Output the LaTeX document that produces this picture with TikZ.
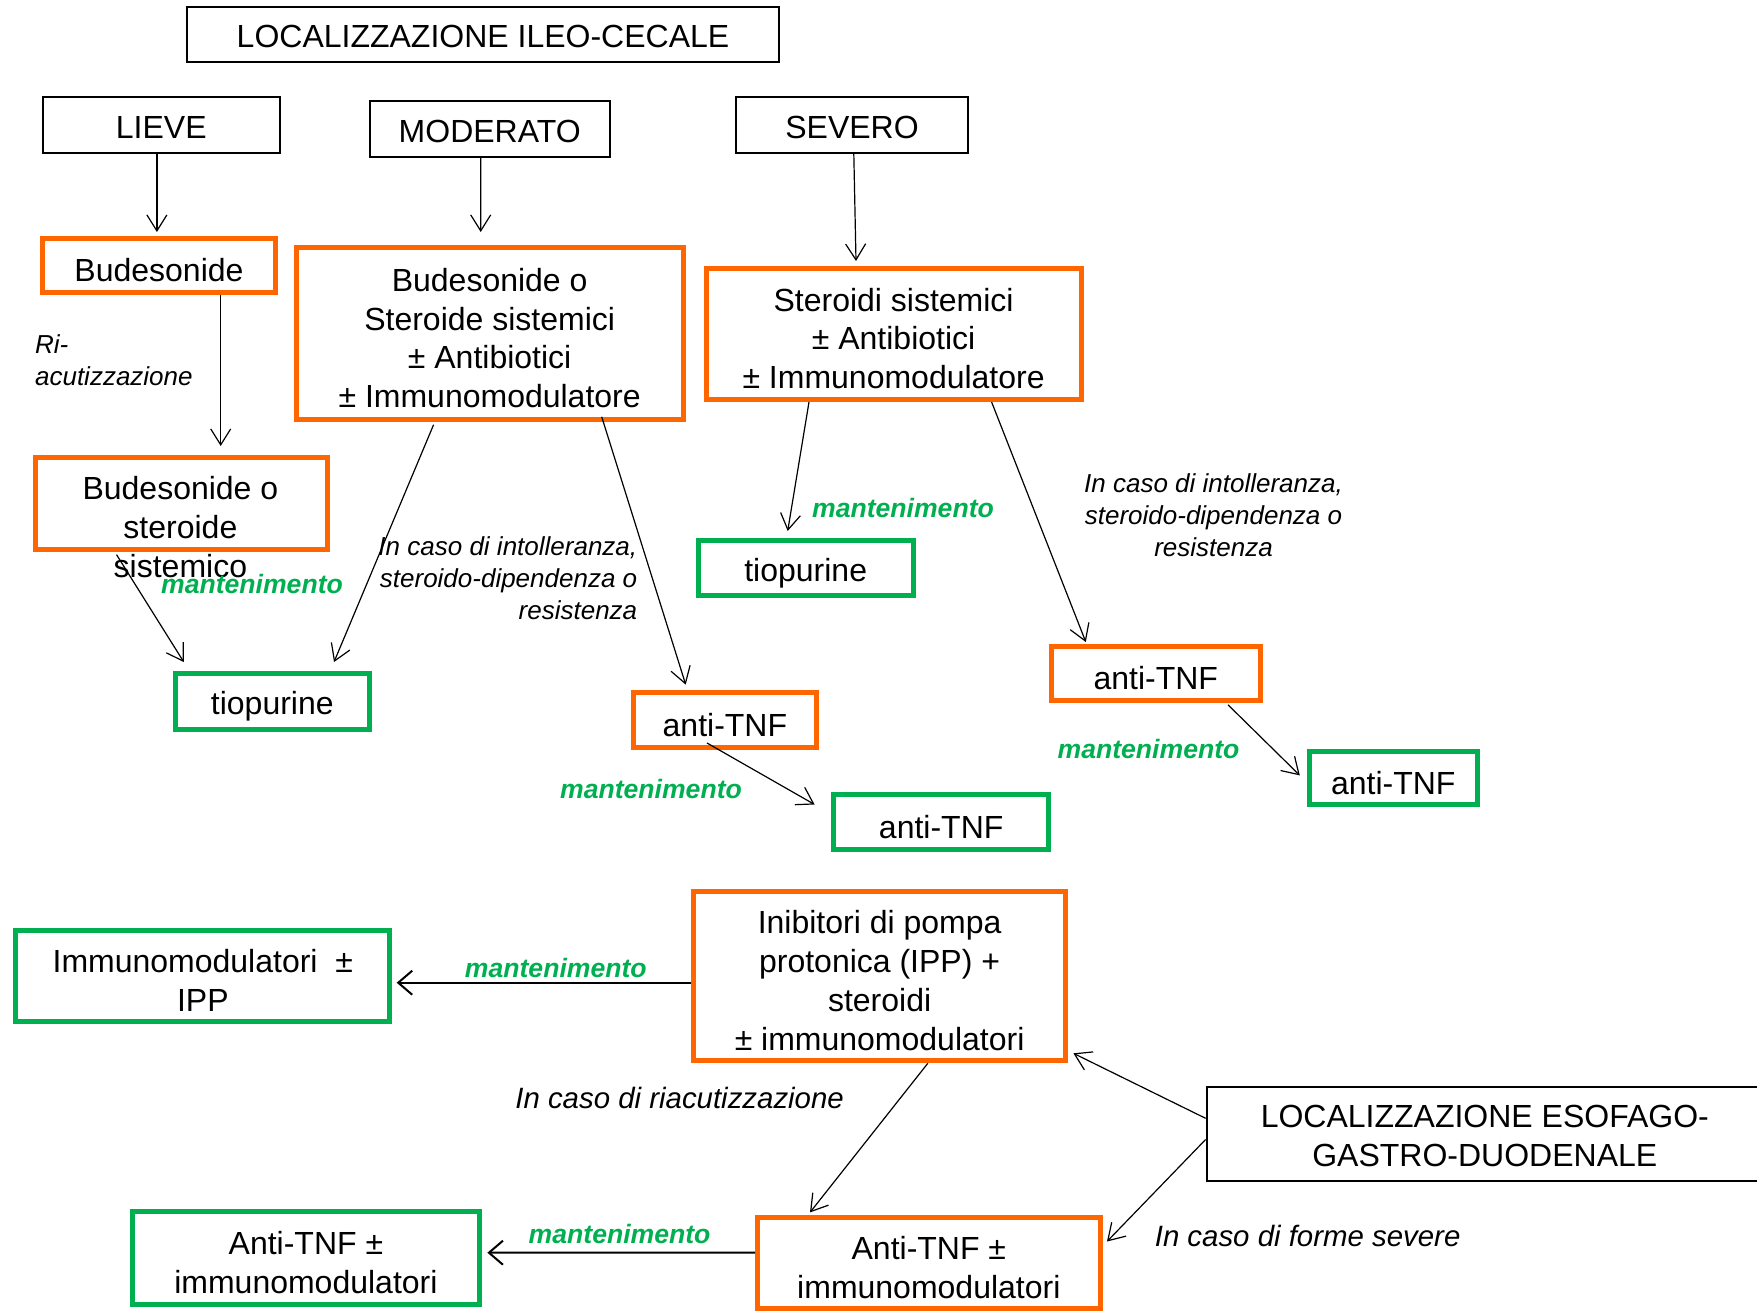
\documentclass[tikz,border=0pt]{standalone}
\usepackage{fontspec}
\setmainfont{Liberation Sans}
\usetikzlibrary{arrows.meta}
\definecolor{ora}{HTML}{FF6600}
\definecolor{grn}{HTML}{00B050}
\newcommand\dmainf{\fontsize{16}{19.4}\selectfont}
\newcommand\dmantf{\fontsize{13.3}{16}\selectfont\bfseries\itshape}
\newcommand\dnotef{\fontsize{13}{16}\selectfont\itshape}
\newcommand\dnotebf{\fontsize{14.7}{17}\selectfont\itshape}
\newcommand\dms{\rule{0pt}{16.2pt}}
\newcommand\dmsb{\rule{0pt}{13.6pt}}
\begin{document}
\begin{tikzpicture}[x=0.5pt,y=-0.5pt,
 tstrut/.style={execute at begin node={\rule{0pt}{#1}}},
 boxbase/.style={inner sep=0pt,align=center,font=\dmainf},
 bbox/.style={boxbase,draw=black,line width=1pt,tstrut=13.5pt},
 obox/.style={boxbase,draw=ora,line width=2.5pt,tstrut=16.5pt},
 gbox/.style={boxbase,draw=grn,line width=2.5pt,tstrut=16.5pt},
 mbox/.style={boxbase,line width=2.5pt},
 arr/.style={line width=0.6pt,-{Straight Barb[length=8pt,width=10pt]}},
 harr/.style={line width=1pt,-{Straight Barb[length=7pt,width=12pt]}},
 mant/.style={text=grn,font=\dmantf,inner sep=0pt},
 note/.style={font=\dnotef,inner sep=0pt},
 bignote/.style={font=\dnotebf,inner sep=0pt},
]
\useasboundingbox (0,0) rectangle (1757,1313);

% header boxes
\node[bbox,minimum width=296pt,minimum height=27.5pt] (title) at (483,34.2) {LOCALIZZAZIONE ILEO-CECALE};
\node[bbox,minimum width=118.75pt,minimum height=27.75pt] (lieve) at (161.3,124.8) {LIEVE};
\node[bbox,minimum width=120pt,minimum height=28.15pt] (moderato) at (489.7,128.9) {MODERATO};
\node[bbox,minimum width=116pt,minimum height=27.75pt] (severo) at (852,124.8) {SEVERO};

% therapy boxes
\node[obox,minimum width=116.5pt,minimum height=27pt] (b1) at (159,265.5) {Budesonide};
\node[mbox,draw=ora,minimum width=193.5pt,minimum height=86pt] (b2) at (489.65,333.5) {\dms Budesonide o\\Steroide sistemici\\± Antibiotici\\± Immunomodulatore};
\node[mbox,draw=ora,minimum width=187.5pt,minimum height=65.7pt] (b3) at (893.6,333.8) {\dms Steroidi sistemici\\± Antibiotici\\± Immunomodulatore};
\node[obox,minimum width=146pt,minimum height=46.2pt] (b4) at (181,503.7) {};
\node[font=\dmainf,align=center,inner sep=0pt] (b4t) at (180.4,527) {Budesonide o\\steroide\\sistemico};

\node[gbox,minimum width=97.2pt,minimum height=27.85pt] (t1) at (272.3,701.4) {tiopurine};
\node[gbox,minimum width=107.35pt,minimum height=27.5pt] (t2) at (805.7,568) {tiopurine};
\node[obox,minimum width=91.6pt,minimum height=27.3pt] (a1) at (724.9,719.8) {anti-TNF};
\node[gbox,minimum width=107.3pt,minimum height=27.3pt] (a2) at (941.2,821.8) {anti-TNF};
\node[obox,minimum width=104.5pt,minimum height=26.75pt] (a3) at (1155.8,673.3) {anti-TNF};
\node[gbox,minimum width=84.25pt,minimum height=26.65pt] (a4) at (1393.3,777.7) {anti-TNF};

% lower part
\node[mbox,draw=ora,minimum width=185.7pt,minimum height=84.9pt] (c1) at (879.6,975.9) {\dms Inibitori di pompa\\protonica (IPP) +\\steroidi\\± immunomodulatori};
\node[mbox,draw=grn,minimum width=186.9pt,minimum height=45.6pt] (c2) at (202.8,975.9) {\dms Immunomodulatori\ \ ±\\IPP};
\node[boxbase,draw=black,line width=1pt,minimum width=278.2pt,minimum height=47.1pt] (c3) at (1484.8,1133.9) {\dmsb LOCALIZZAZIONE ESOFAGO-\\GASTRO-DUODENALE};
\node[mbox,draw=ora,minimum width=171.15pt,minimum height=45.7pt] (c4) at (928.85,1262.8) {\dms Anti-TNF ±\\immunomodulatori};
\node[mbox,draw=grn,minimum width=173.4pt,minimum height=46.25pt] (c5) at (305.9,1257.75) {\dms Anti-TNF ±\\immunomodulatori};

% labels
\node[note,anchor=west,align=left] (ri) at (34.7,360) {Ri-\\acutizzazione};
\node[mant] (m1) at (252,584) {mantenimento};
\node[note,anchor=east,align=right] (i1) at (637.6,578) {In caso di intolleranza,\\steroido-dipendenza o\\resistenza};
\node[mant] (m2) at (903,507.6) {mantenimento};
\node[note,align=center] (i2) at (1213.5,515.4) {In caso di intolleranza,\\steroido-dipendenza o\\resistenza};
\node[mant] (m3) at (651,788.8) {mantenimento};
\node[mant] (m4) at (1148.5,748.5) {mantenimento};
\node[mant] (m5) at (555.8,968) {mantenimento};
\node[bignote] (r1) at (679.6,1098) {In caso di riacutizzazione};
\node[mant] (m6) at (619.6,1233.7) {mantenimento};
\node[bignote] (s1) at (1307.6,1236) {In caso di forme severe};

% connectors
\draw[arr] ([shift={(-4.4,29.2)}]lieve.center) -- ([shift={(-2.1,-33.5)}]b1.center);
\draw[arr] ([shift={(-9,29.1)}]moderato.center) -- ([shift={(-8.95,-101.5)}]b2.center);
\draw[arr] ([shift={(1.8,28.7)}]severo.center) -- ([shift={(-37.6,-72.8)}]b3.center);
\draw[arr] ([shift={(61.7,29.5)}]b1.center) -- ([shift={(39.7,-57.7)}]b4.center);
\draw[arr] ([shift={(-64.5,50.9)}]b4.center) -- ([shift={(-88.5,-39.4)}]t1.center);
\draw[arr] ([shift={(-56.05,91.2)}]b2.center) -- ([shift={(61.7,-39.4)}]t1.center);
\draw[arr] ([shift={(112.05,83.3)}]b2.center) -- ([shift={(-39.2,-35.2)}]a1.center);
\draw[arr] ([shift={(-84.6,68.2)}]b3.center) -- ([shift={(-18,-37)}]t2.center);
\draw[arr] ([shift={(98,68.2)}]b3.center) -- ([shift={(-70,-31.3)}]a3.center);
\draw[arr] ([shift={(-17.9,23.2)}]a1.center) -- ([shift={(-126.6,-17.3)}]a2.center);
\draw[arr] ([shift={(72.2,31.5)}]a3.center) -- ([shift={(-93.5,-2.3)}]a4.center);
\draw[harr] ([shift={(-188.2,6.8)}]c1.center) -- ([shift={(193.9,6.8)}]c2.center);
\draw[arr] ([shift={(48.2,87.4)}]c1.center) -- ([shift={(-118.85,-50.4)}]c4.center);
\draw[arr] ([shift={(-279.2,-15.6)}]c3.center) -- ([shift={(193.8,77.4)}]c1.center);
\draw[arr] ([shift={(-279.2,5.6)}]c3.center) -- ([shift={(178.15,-21.3)}]c4.center);
\draw[harr] ([shift={(-173.65,-10.1)}]c4.center) -- ([shift={(181.5,-5.05)}]c5.center);
\end{tikzpicture}
\end{document}
